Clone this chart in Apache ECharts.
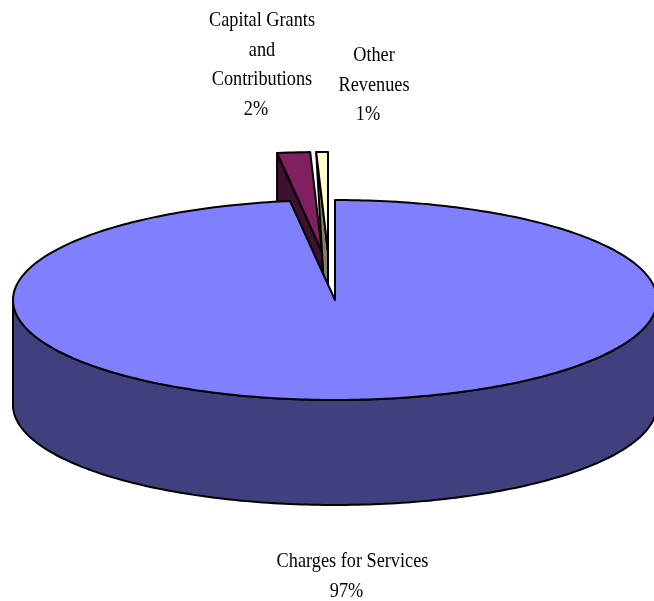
<!DOCTYPE html>
<html>
<head>
<meta charset="utf-8">
<style>html,body{margin:0;padding:0;background:#fff;overflow:hidden}#chart{width:654px;height:601px}</style>
<script src="https://cdn.jsdelivr.net/npm/echarts@6/dist/echarts.min.js"></script>
</head>
<body>
<div id="chart"></div>
<script>
// Revenue shares, clockwise from the back of the disc.
const categories = ['Charges for Services', 'Capital Grants\nand\nContributions', 'Other\nRevenues'];
const shares = [97, 2, 1];

const topColors = ['#8080ff', '#802060', '#ffffcc'];
const wallColors = ['#40407f', '#401030', '#808066'];

// Disc geometry in pixels.
const disc = { cx: 335, cy: 300, rx: 322, ry: 100, depth: 105 };
// Pull-out of each slice from the disc, and where its caption sits.
const pullX = [0, -13, -7];
const pullY = [0, -48, -48];
const captionX = [352.5, 262, 374];
const captionTop = [547, 6, 41];
const captionLine = 29.4;
const percentShift = -6;
// Slices whose cut wall keeps a full vertical outer edge.
const squareWall = [false, true, false];

const rad = d => d * Math.PI / 180;

// Slices near the back of the disc are foreshortened, so their shares
// map to a narrower sweep than the same share at the front.
const sweepFromBack = share => Math.min(360, 2.1 * Math.pow(share, 1.22));

const rim = (t, ox, oy, down) => [
  disc.cx + ox - disc.rx * Math.sin(rad(t)),
  disc.cy + oy + (down || 0) - disc.ry * Math.cos(rad(t))
];

function arc(from, to, ox, oy, down) {
  const n = Math.max(2, Math.ceil(Math.abs(to - from)));
  const pts = [];
  for (let i = 0; i <= n; i++) pts.push(rim(from + (to - from) * i / n, ox, oy, down));
  return pts;
}

const line = { stroke: '#000', lineWidth: 2, lineJoin: 'round' };

function caption(text, x, y) {
  return {
    type: 'text', z2: 30, x, y, scaleX: 0.83,
    style: {
      text,
      fill: '#000',
      font: '22px "Liberation Serif"',
      lineHeight: captionLine,
      align: 'center',
      verticalAlign: 'top'
    }
  };
}

function renderSlice(params, api) {
  const i = params.dataIndex;
  const value = api.value(0);
  // Share of the circle still left after this slice, counted from the top.
  let before = 0;
  for (let k = 0; k < i; k++) before += shares[k];
  const tLow = sweepFromBack(100 - before - value);
  const tHigh = sweepFromBack(100 - before);
  const ox = pullX[i];
  const oy = pullY[i];
  const apex = [disc.cx + ox, disc.cy + oy];
  const apexLow = [apex[0], apex[1] + disc.depth];
  const layer = i === 0 ? 10 : i * 2;
  const children = [];

  if (i === 0) {
    // The front of the disc: visible side wall between the two extremes.
    const upper = arc(90, 270, 0, 0, 0);
    const lower = arc(270, 90, 0, 0, disc.depth);
    children.push({
      type: 'polygon', z2: layer,
      shape: { points: upper.concat(lower) },
      style: Object.assign({ fill: wallColors[i] }, line)
    });
  } else {
    // Cut wall facing the viewer on a pulled-out slice.
    const outer = rim(tHigh, ox, oy);
    const pts = [outer, apex, apexLow];
    if (squareWall[i]) pts.push(rim(tHigh, ox, oy, disc.depth));
    children.push({
      type: 'polygon', z2: layer,
      shape: { points: pts },
      style: Object.assign({ fill: wallColors[i] }, line)
    });
  }

  children.push({
    type: 'polygon', z2: layer + 1,
    shape: { points: [apex].concat(arc(tLow, tHigh, ox, oy)) },
    style: Object.assign({ fill: topColors[i] }, line)
  });

  const nameLines = categories[i].split('\n').length;
  children.push(caption(categories[i], captionX[i], captionTop[i]));
  children.push(caption(value + '%', captionX[i] + percentShift, captionTop[i] + nameLines * captionLine));

  return { type: 'group', children };
}

const chart = echarts.init(document.getElementById('chart'));
chart.setOption({
  animation: false,
  backgroundColor: '#ffffff',
  series: [{
    type: 'custom',
    coordinateSystem: 'none',
    clip: false,
    renderItem: renderSlice,
    data: shares.map((v, i) => ({ name: categories[i], value: [v] }))
  }]
});
</script>
</body>
</html>
